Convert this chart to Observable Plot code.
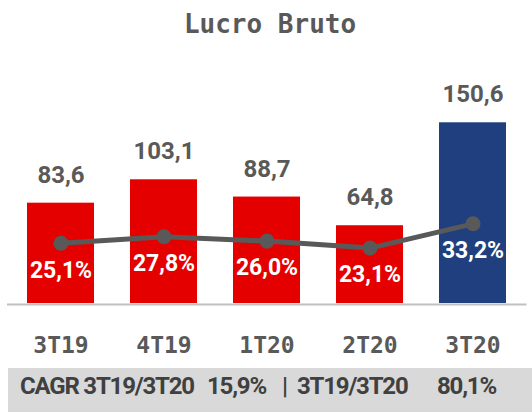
<!DOCTYPE html>
<html>
<head>
<meta charset="utf-8">
<script src="https://cdn.jsdelivr.net/npm/d3@7"></script>
<script src="https://cdn.jsdelivr.net/npm/@observablehq/plot@0.6"></script>
<style>
  html, body { margin: 0; padding: 0; background: #fff; }
  #wrap { width: 532px; height: 412px; position: relative; overflow: hidden; }
  #title { height: 48px; line-height: 48px; text-align: center; padding-left: 8px;
    font-family: "DejaVu Sans Mono", monospace; font-weight: bold; font-size: 26px; color: #595959; }
  #band { position: absolute; left: 8px; top: 368px; width: 524px; height: 44px; background: #d9d9d9;
    font-family: Roboto, sans-serif; font-weight: bold; font-size: 24px; color: #404040; letter-spacing: -1.2px; }
  #band span { position: absolute; top: 0; line-height: 36px; }
</style>
</head>
<body>
<div id="wrap">
  <div id="title">Lucro Bruto</div>
  <div id="chart"></div>
  <div id="band">
    <span style="left:12px">CAGR 3T19/3T20</span>
    <span style="left:199px">15,9%</span>
    <span style="left:274px">|</span>
    <span style="left:289px">3T19/3T20</span>
    <span style="left:429px">80,1%</span>
  </div>
</div>
<script>
const quarters = ["3T19", "4T19", "1T20", "2T20", "3T20"];
const lucro = [83.6, 103.1, 88.7, 64.8, 150.6];
const margem = [25.1, 27.8, 26.0, 23.1, 33.2];
const barColors = ["#e50000", "#e50000", "#e50000", "#e50000", "#1f3f7f"];

const fmt = v => v.toFixed(1).replace(".", ",");
const pctK = 2.0; // secondary-axis mapping of margin (%) onto value axis

const data = quarters.map((q, i) => ({
  q, v: lucro[i], p: margem[i], py: margem[i] * pctK, color: barColors[i]
}));

const chart = Plot.plot({
  width: 532,
  height: 320,
  marginLeft: 7,
  marginRight: 5.5,
  marginTop: 0,
  marginBottom: 65,
  x: { domain: quarters, paddingInner: 0.35, paddingOuter: 0.175, axis: null },
  y: { domain: [0, 212.5], axis: null },
  marks: [
    Plot.barY(data, { x: "q", y: "v", fill: "color" }),
    Plot.ruleY([0], { stroke: "#c0c0c0", strokeWidth: 2, dy: 1 }),
    Plot.text(data, {
      x: "q", y: "v", text: d => fmt(d.v), dy: -28, lineAnchor: "middle",
      fill: "#595959", fontSize: 24, fontWeight: "bold", fontFamily: "Roboto, sans-serif",
      letterSpacing: "-1px"
    }),
    Plot.line(data, { x: "q", y: "py", stroke: "#595959", strokeWidth: 5 }),
    Plot.dot(data, { x: "q", y: "py", r: 7.5, fill: "#595959" }),
    Plot.text(data, {
      x: "q", y: "py", text: d => fmt(d.p) + "%", dy: 27, lineAnchor: "middle",
      fill: "#ffffff", fontSize: 23, fontWeight: "bold", fontFamily: "Roboto, sans-serif",
      letterSpacing: "-0.8px"
    }),
    Plot.text(data, {
      x: "q", text: "q", frameAnchor: "bottom", dy: 42, lineAnchor: "middle",
      fill: "#595959", fontSize: 23, fontWeight: "bold", fontFamily: "'DejaVu Sans Mono', monospace"
    })
  ]
});
document.getElementById("chart").appendChild(chart);
</script>
</body>
</html>
